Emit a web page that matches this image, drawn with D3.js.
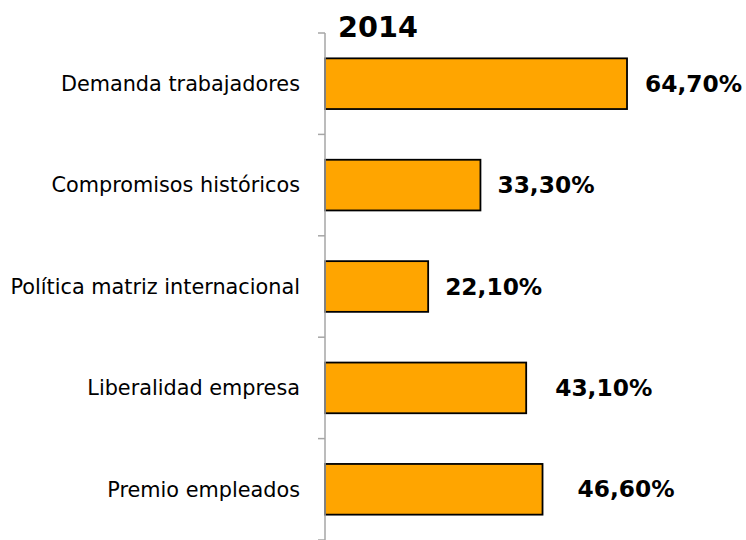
<!DOCTYPE html>
<html>
<head>
<meta charset="utf-8">
<script src="https://cdn.jsdelivr.net/npm/d3@7"></script>
<style>
  body { margin: 0; background: #fff; }
  text { font-family: "DejaVu Sans", Verdana, sans-serif; }
</style>
</head>
<body>
<svg id="chart" width="746" height="540"></svg>
<script>
// datos del gráfico
const title = '2014';
const categories = ['Demanda trabajadores', 'Compromisos históricos', 'Política matriz internacional', 'Liberalidad empresa', 'Premio empleados'];
const values = [64.7, 33.3, 22.1, 43.1, 46.6];
const valueLabels = ['64,70%', '33,30%', '22,10%', '43,10%', '46,60%'];

// desplazamiento de cada etiqueta respecto al final de la barra (como en el original)
const labelGap = [18, 17, 17, 29, 35];

const width = 746;
const height = 540;
const svg = d3.select('#chart');

const x = d3.scaleLinear()
  .domain([0, 100])
  .range([325, 325 + 466.8]);

const y = d3.scaleBand()
  .domain(categories)
  .range([33, 540])
  .paddingInner(0.5)
  .paddingOuter(0.25);

// barras
svg.selectAll('rect.bar')
  .data(values)
  .enter()
  .append('rect')
  .attr('class', 'bar')
  .attr('x', x(0))
  .attr('y', (d, i) => y(categories[i]))
  .attr('width', d => x(d) - x(0))
  .attr('height', y.bandwidth())
  .attr('fill', '#FFA500')
  .attr('stroke', '#000')
  .attr('stroke-width', 1.8);

// eje vertical con marcas entre categorías
const step = y.step();
const edges = d3.range(categories.length + 1).map(i => 33 + i * step);
const axis = svg.append('g').attr('class', 'axis');
axis.append('line')
  .attr('x1', x(0)).attr('x2', x(0))
  .attr('y1', 33).attr('y2', height)
  .attr('stroke', '#A6A6A6')
  .attr('stroke-width', 1.5);
axis.selectAll('line.tick')
  .data(edges)
  .enter()
  .append('line')
  .attr('class', 'tick')
  .attr('x1', x(0) - 7).attr('x2', x(0))
  .attr('y1', d => d).attr('y2', d => d)
  .attr('stroke', '#A6A6A6')
  .attr('stroke-width', 1.5);

// nombres de categorías
axis.selectAll('text.cat')
  .data(categories)
  .enter()
  .append('text')
  .attr('class', 'cat')
  .attr('x', x(0) - 25)
  .attr('y', d => y(d) + y.bandwidth() / 2)
  .attr('dy', '0.35em')
  .attr('text-anchor', 'end')
  .attr('font-size', 20.8)
  .attr('fill', '#000')
  .text(d => d);

// etiquetas de valor
svg.selectAll('text.val')
  .data(values)
  .enter()
  .append('text')
  .attr('class', 'val')
  .attr('x', (d, i) => x(d) + labelGap[i])
  .attr('y', (d, i) => y(categories[i]) + y.bandwidth() / 2)
  .attr('dy', '0.35em')
  .attr('font-size', 23.3)
  .attr('font-weight', 'bold')
  .attr('fill', '#000')
  .text((d, i) => valueLabels[i]);

// título
svg.append('text')
  .attr('x', 338)
  .attr('y', 37)
  .attr('font-size', 28.7)
  .attr('font-weight', 'bold')
  .attr('fill', '#000')
  .text(title);
</script>
</body>
</html>
